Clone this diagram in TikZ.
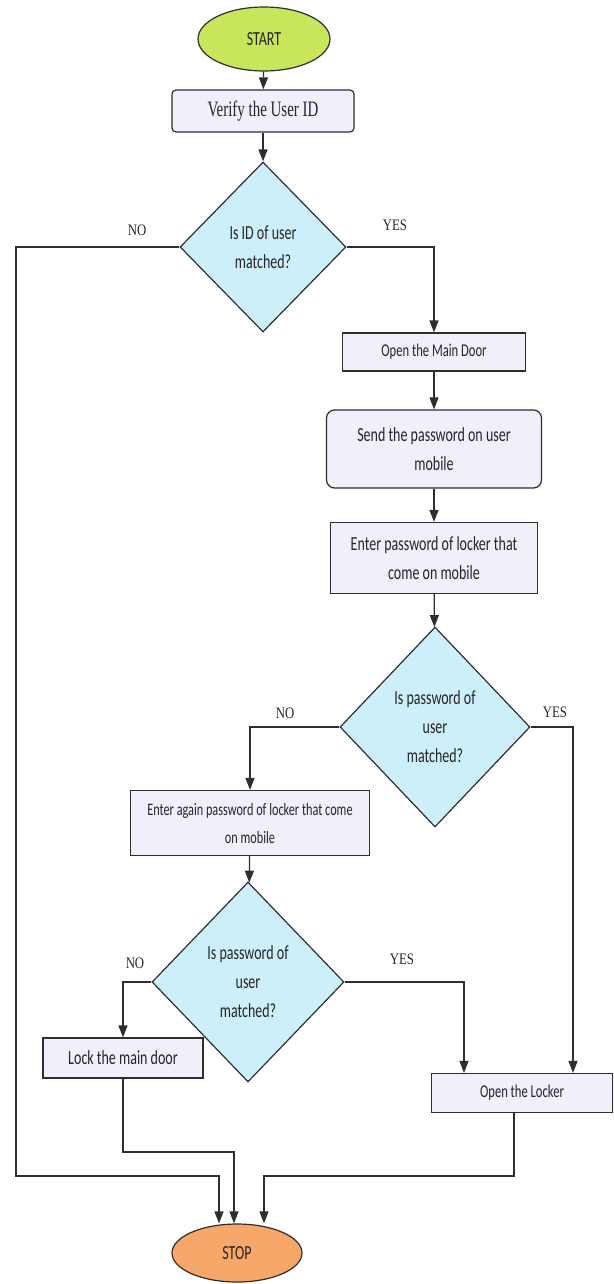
\documentclass[tikz,border=0pt]{standalone}
\usepackage{fontspec}
\newfontfamily\flowfont[FakeStretch=0.7]{Carlito}
\newfontfamily\labelfont[FakeStretch=0.8]{Liberation Serif}
\newfontfamily\userfont[FakeStretch=0.68]{Liberation Serif}
\usetikzlibrary{shapes.geometric,arrows.meta}
\definecolor{startgreen}{HTML}{C8E65C}
\definecolor{stoporange}{HTML}{F8A76A}
\definecolor{askblue}{HTML}{CDEFFC}
\definecolor{boxfill}{HTML}{F0EFFA}
\definecolor{linegray}{HTML}{2E2E2E}

\begin{document}
\begin{tikzpicture}[x=1pt,y=-1pt,
  every node/.style={font=\flowfont\fontsize{20}{29}\selectfont, align=center, text=black!85},
  box/.style={draw=linegray, line width=1.2pt, fill=boxfill, inner sep=0pt},
  ask/.style={diamond, draw=linegray, line width=1.2pt, fill=askblue, inner sep=0pt},
  term/.style={ellipse, draw=linegray, line width=1.2pt, inner sep=0pt},
  yesno/.style={font=\labelfont\fontsize{16}{19}\selectfont},
  small/.style={font=\flowfont\fontsize{18}{28}\selectfont},
  arr/.style={draw=linegray, line width=1.2pt, -{Triangle[width=9pt,length=12pt]}}]
\useasboundingbox (0,0) rectangle (613,1284);

\node[term, fill=startgreen, minimum width=132pt, minimum height=64pt] (start) at (264,39) {START};
\node[box, rounded corners=4pt, minimum width=182pt, minimum height=42pt, font=\userfont\fontsize{22}{26}\selectfont] (verify) at (263,111) {Verify the User ID};
\node[ask, minimum width=166pt, minimum height=170pt] (d1) at (263,247) {Is ID of user\\matched?};

\node[box, small, minimum width=183pt, minimum height=38pt] (maindoor) at (434,352) {Open the Main Door};
\node[box, rounded corners=8pt, minimum width=215pt, minimum height=78pt] (send) at (434,449) {Send the password on user\\mobile};
\node[box, minimum width=207pt, minimum height=71pt] (enter) at (434,558) {Enter password of locker that\\come on mobile};
\node[ask, minimum width=190pt, minimum height=200pt] (d2) at (435,727) {Is password of\\user\\matched?};

\node[box, minimum width=239pt, minimum height=65pt, font=\flowfont\fontsize{17.5}{28}\selectfont] (again) at (250,823) {Enter again password of locker that come\\on mobile};
\node[ask, minimum width=192pt, minimum height=200pt] (d3) at (248,982) {Is password of\\user\\matched?};

\node[box, minimum width=160pt, minimum height=40pt] (lock) at (123,1058) {Lock the main door};
\node[box, small, minimum width=181pt, minimum height=39pt] (locker) at (522,1093) {Open the Locker};

\node[term, fill=stoporange, minimum width=130pt, minimum height=58pt] (stop) at (237,1253) {STOP};

\node[yesno] (no1) at (137,230) {NO};
\node[yesno] (yes1) at (395,225) {YES};
\node[yesno] (no2) at (285,713) {NO};
\node[yesno] (yes2) at (555,712) {YES};
\node[yesno] (no3) at (135,963) {NO};
\node[yesno] (yes3) at (402,959) {YES};

\coordinate (leftrail) at (16,1176);
\coordinate (lockbend) at (234,1152);
\coordinate (lockerbend) at (264,1176);

\draw[arr] (start) -- (verify);
\draw[arr] (verify) -- (d1);
\draw[arr] (d1.east) -| (maindoor.north);
\draw[arr] (maindoor) -- (send);
\draw[arr] (send) -- (enter);
\draw[arr] (enter) -- (d2);
\draw[arr] (d2.west) -| (again.north);
\draw[arr] (d2.east) -| ([xshift=51pt]locker.north);
\draw[arr] (again) -- (d3);
\draw[arr] (d3.west) -| (lock.north);
\draw[arr] (d3.east) -| ([xshift=-58pt]locker.north);

\draw[arr] (d1.west) -| (leftrail) -| ([xshift=-18pt]stop.north);
\draw[arr] (lock.south) |- (lockbend) -- ([xshift=-3pt]stop.north);
\draw[arr] ([xshift=-8pt]locker.south) |- (lockerbend) -- ([xshift=27pt]stop.north);
\end{tikzpicture}
\end{document}
